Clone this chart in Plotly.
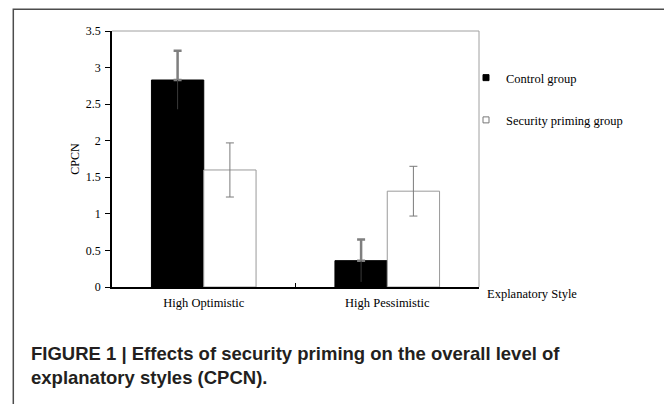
import plotly.graph_objects as go

categories = ["High Optimistic", "High Pessimistic"]
control_mean = [2.83, 0.36]
control_err = [0.40, 0.29]
priming_mean = [1.60, 1.31]
priming_err = [0.37, 0.34]
y_ticks = [0, 0.5, 1, 1.5, 2, 2.5, 3, 3.5]
y_tick_text = ["0", "0.5", "1", "1.5", "2", "2.5", "3", "3.5"]

# page has an 8px body margin; figure sized to fit the 672x404 window
OFF = 8
W, H = 672 - OFF, 404 - OFF
ML, MR, MT, MB = 112 - OFF, 193, 31 - OFF, 117
PW, PH = W - ML - MR, H - MT - MB


def px(x):  # x in window pixels -> paper
    return (x - OFF - ML) / PW


def py(y):  # y in window pixels -> paper
    return (H - MB - (y - OFF)) / PH


SERIF = "Liberation Serif, Times New Roman, serif"

fig = go.Figure()
fig.add_trace(go.Bar(
    x=categories, y=control_mean, offsetgroup="c", showlegend=False,
    marker=dict(color="black", line=dict(color="black", width=1)),
    error_y=dict(type="data", symmetric=False, array=control_err,
                 arrayminus=[0, 0], color="#7f7f7f", thickness=2.5, width=4),
))
# lower part of the control error bars (faint, inside the black bar)
fig.add_trace(go.Bar(
    x=categories, y=control_mean, offsetgroup="c", showlegend=False,
    marker=dict(color="rgba(0,0,0,0)", line=dict(width=0)),
    error_y=dict(type="data", symmetric=False, array=[0, 0],
                 arrayminus=control_err, color="#3a3a3a", thickness=1, width=0),
))
fig.add_trace(go.Bar(
    x=categories, y=priming_mean, offsetgroup="s", showlegend=False,
    marker=dict(color="white", line=dict(color="#9a9a9a", width=1)),
    error_y=dict(type="data", array=priming_err, color="#7a7a7a",
                 thickness=1, width=4),
))
# legend entries
fig.add_trace(go.Scatter(
    x=[None], y=[None], mode="markers", name="Control group", legendgroup="a",
    marker=dict(symbol="square", size=6, color="black", line=dict(color="black", width=1)),
))
fig.add_trace(go.Scatter(
    x=[None], y=[None], mode="markers", name="Security priming group", legendgroup="b",
    marker=dict(symbol="square", size=6, color="white", line=dict(color="#777", width=1)),
))

shapes = [
    # outer figure frame
    dict(type="rect", xref="paper", yref="paper", x0=px(13.3), x1=px(670.7),
         y0=py(430), y1=py(9.3), line=dict(color="#4d4d4d", width=1.5)),
    # plot area border (top and right)
    dict(type="line", xref="paper", yref="paper", x0=0, x1=1, y0=1, y1=1,
         line=dict(color="#a0a0a0", width=1)),
    dict(type="line", xref="paper", yref="paper", x0=1, x1=1, y0=0, y1=1,
         line=dict(color="#a0a0a0", width=1)),
]

annotations = [
    dict(text="Explanatory Style", xref="paper", yref="paper", x=px(485),
         y=py(294), xanchor="left", yanchor="middle", showarrow=False,
         font=dict(family=SERIF, size=12.5, color="black")),
    dict(text="<b>FIGURE 1 | Effects of security priming on the overall level of<br>"
              "explanatory styles (CPCN).</b>",
         xref="paper", yref="paper", x=px(29), y=py(341), xanchor="left",
         yanchor="top", align="left", showarrow=False,
         font=dict(family="Liberation Sans Narrow, Arial Narrow, sans-serif",
                   size=18.5, color="#231f20")),
]

fig.update_layout(
    width=W, height=H,
    margin=dict(l=ML, r=MR, t=MT, b=MB, pad=0),
    paper_bgcolor="white", plot_bgcolor="white",
    barmode="group", bargap=0.43, bargroupgap=0,
    font=dict(family=SERIF, size=12, color="black"),
    showlegend=True,
    legend=dict(x=px(466), y=py(63), xanchor="left", yanchor="top",
                traceorder="grouped", tracegroupgap=23,
                bgcolor="rgba(0,0,0,0)", font=dict(family=SERIF, size=12.5)),
    shapes=shapes, annotations=annotations,
)
fig.update_xaxes(
    showline=True, linecolor="black", linewidth=1.5, ticks="inside",
    tickson="boundaries", ticklen=4, tickcolor="black", showgrid=False,
    tickfont=dict(family=SERIF, size=12.5), ticklabelstandoff=3, zeroline=False,
)
fig.update_yaxes(
    range=[0, 3.5], tickvals=y_ticks, ticktext=y_tick_text,
    showline=True, linecolor="black", linewidth=1.5, ticks="outside",
    ticklen=5, tickcolor="black", showgrid=False, zeroline=False,
    ticklabelstandoff=2, tickfont=dict(family=SERIF, size=12),
    title=dict(text="CPCN", standoff=4, font=dict(family=SERIF, size=12)),
)

fig.write_html("out.html")
